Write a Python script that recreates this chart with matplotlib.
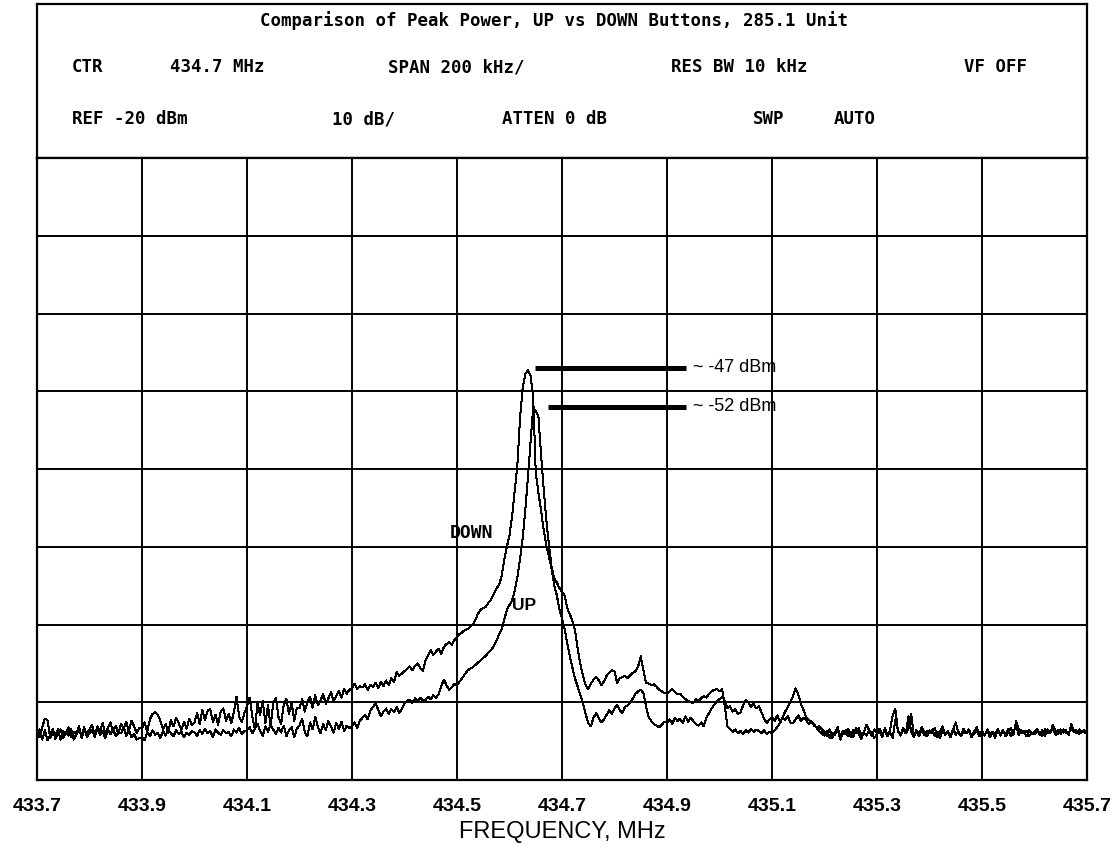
import numpy as np
import matplotlib
matplotlib.use("Agg")
import matplotlib.pyplot as plt

# sweep settings of the analyzer
sweep_start = 433.7
sweep_stop = 435.7
sweep_points = 401

# trace levels in dBm, one row per 0.1 MHz (20 sweep points)
down_dbm = [
    -93.8, -94.5, -93.2, -92.1, -92.3, -94.6, -93.9, -94.3, -93.5, -94.8, -93.7, -94.1, -93.2, -94.5, -93.8, -94.0, -93.1, -94.6, -93.6, -93.9,
    -93.5, -92.9, -94.2, -93.1, -93.8, -92.7, -94.0, -93.3, -92.6, -93.9, -93.0, -94.1, -92.8, -93.4, -92.5, -93.7, -92.4, -93.1, -94.0, -93.3,
    -93.4, -92.6, -93.8, -92.2, -91.5, -91.3, -91.6, -92.4, -93.5, -92.8, -93.9, -92.3, -93.1, -92.0, -92.7, -93.6, -92.5, -93.4, -92.1, -92.9,
    -92.6, -91.4, -92.8, -91.0, -92.3, -91.1, -90.9, -92.5, -91.6, -92.9, -91.2, -90.8, -92.4, -91.5, -92.7, -91.3, -89.3, -91.8, -92.6, -91.4,
    -90.5, -89.4, -91.8, -93.5, -90.2, -91.6, -89.8, -92.7, -90.4, -93.2, -90.0, -89.5, -91.9, -92.8, -90.3, -89.6, -91.5, -90.1, -92.4, -90.7,
    -90.8, -89.6, -91.2, -90.0, -89.3, -90.7, -89.1, -90.4, -89.8, -88.9, -90.2, -89.5, -88.7, -89.9, -89.2, -88.6, -89.4, -88.3, -88.9, -88.4,
    -88.2, -87.6, -88.3, -87.9, -88.1, -87.7, -88.4, -87.8, -88.0, -87.5, -88.2, -87.4, -87.9, -87.2, -87.8, -86.9, -87.4, -86.1, -86.6, -86.3,
    -86.0, -85.7, -85.4, -85.9, -85.3, -85.0, -85.6, -86.0, -84.6, -84.0, -83.3, -83.9, -83.5, -83.1, -83.8, -82.9, -82.5, -82.3, -82.6, -82.0,
    -81.6, -81.2, -81.0, -80.7, -80.6, -80.3, -80.0, -79.4, -78.6, -78.1, -77.9, -77.7, -77.2, -76.8, -76.1, -75.4, -74.9, -73.8, -71.7, -70.0,
    -68.5, -66.0, -62.8, -59.5, -53.5, -49.6, -47.8, -47.3, -48.0, -50.5, -60.5, -63.0, -65.3, -67.8, -69.8, -71.2, -72.8, -74.9, -76.2, -78.0,
    -79.2, -80.6, -82.4, -84.1, -85.6, -87.0, -88.0, -89.1, -90.1, -91.5, -92.7, -93.1, -92.0, -91.4, -92.0, -92.6, -92.2, -91.6, -91.0, -91.5,
    -90.8, -90.3, -91.0, -91.4, -90.6, -90.4, -90.0, -89.5, -88.9, -88.6, -88.4, -88.8, -90.5, -91.9, -92.4, -92.8, -93.0, -93.2, -92.9, -92.5,
    -92.6, -92.2, -92.8, -92.0, -92.4, -92.1, -92.7, -91.8, -92.5, -92.0, -92.4, -92.8, -93.0, -92.6, -93.1, -92.0, -91.4, -90.8, -90.3, -89.9,
    -89.6, -89.3, -89.8, -90.8, -90.5, -91.2, -90.9, -91.5, -91.3, -90.4, -89.7, -90.0, -90.6, -90.2, -90.8, -90.5, -91.3, -92.1, -92.7, -92.2,
    -91.9, -92.4, -91.7, -92.5, -92.0, -92.3, -91.8, -92.6, -92.7, -92.2, -91.7, -92.4, -92.0, -92.3, -92.8, -92.5, -93.0, -93.2, -93.1, -93.5,
    -93.8, -94.3, -93.5, -94.6, -93.9, -93.2, -94.4, -93.7, -94.1, -93.4, -94.5, -93.6, -94.0, -93.3, -94.2, -93.8, -92.9, -93.6, -94.3, -93.5,
    -93.9, -93.4, -94.1, -93.6, -94.4, -93.5, -91.6, -90.9, -93.8, -94.2, -93.3, -94.0, -91.8, -93.7, -94.5, -93.6, -94.1, -93.2, -93.9, -94.4,
    -93.6, -94.0, -93.3, -94.5, -93.8, -93.1, -94.2, -93.7, -94.4, -93.5, -92.6, -93.9, -94.3, -93.4, -94.0, -93.6, -94.5, -93.8, -93.2, -94.1,
    -93.7, -94.3, -93.5, -94.0, -93.8, -94.6, -93.4, -94.1, -93.6, -94.4, -93.9, -93.3, -94.2, -92.4, -93.5, -94.0, -93.7, -94.4, -93.6, -94.1,
    -93.8, -93.4, -94.2, -93.6, -94.3, -93.5, -94.0, -92.9, -93.7, -94.1, -93.5, -93.9, -93.6, -94.2, -92.8, -93.7, -94.0, -93.5, -93.9, -93.6,
    -93.8,
]

up_dbm = [
    -94.2, -93.5, -94.8, -93.6, -94.9, -94.2, -93.4, -94.7, -94.0, -93.5, -94.6, -93.8, -94.3, -93.4, -94.8, -94.1, -93.6, -94.4, -93.2, -94.5,
    -94.0, -93.6, -94.5, -93.4, -94.2, -93.7, -94.6, -93.5, -94.1, -93.3, -94.4, -93.8, -94.0, -93.2, -94.3, -93.6, -94.5, -94.1, -94.8, -94.6,
    -94.5, -94.9, -93.8, -94.4, -93.6, -94.2, -93.9, -94.6, -93.7, -94.3, -93.5, -94.0, -94.4, -93.6, -94.1, -93.8, -94.5, -93.9, -94.2, -93.7,
    -93.9, -94.3, -93.6, -94.1, -93.4, -94.0, -93.7, -94.5, -93.5, -93.9, -94.2, -93.6, -94.0, -93.8, -94.4, -93.5, -93.9, -93.3, -94.1, -93.7,
    -93.6, -93.2, -94.0, -93.4, -92.8, -93.7, -94.3, -93.1, -93.8, -92.9, -93.5, -94.1, -93.3, -93.9, -93.0, -94.4, -93.6, -93.2, -94.5, -93.4,
    -93.0, -92.1, -93.8, -94.4, -92.6, -93.5, -91.9, -93.2, -94.0, -92.8, -93.6, -92.4, -93.1, -93.9, -92.7, -93.4, -92.5, -93.7, -93.0, -93.3,
    -93.1, -92.6, -93.3, -92.4, -92.0, -91.6, -92.2, -91.1, -90.6, -90.1, -91.0, -91.8, -91.2, -90.8, -91.5, -90.9, -91.3, -90.6, -91.4, -90.8,
    -90.2, -89.8, -89.7, -90.1, -89.5, -89.9, -89.4, -89.8, -89.7, -89.3, -89.6, -89.1, -89.4, -89.0, -87.9, -87.1, -87.8, -88.4, -88.1, -87.6,
    -87.8, -87.3, -86.9, -86.4, -85.9, -85.7, -85.5, -85.2, -84.9, -84.6, -84.3, -84.0, -83.6, -83.3, -82.8, -82.1, -81.3, -80.6, -79.4, -78.1,
    -77.5, -76.9, -75.6, -73.9, -71.6, -69.0, -65.3, -61.2, -56.6, -52.2, -52.6, -53.2, -58.0, -62.5, -66.5, -69.6, -72.5, -74.0, -74.6, -75.3,
    -75.8, -76.3, -77.9, -78.7, -79.6, -80.8, -83.2, -85.1, -86.6, -87.8, -88.3, -87.6, -87.1, -86.7, -87.2, -87.8, -87.3, -86.6, -86.2, -85.9,
    -86.0, -87.5, -86.9, -86.8, -86.6, -86.9, -86.5, -86.2, -86.0, -85.4, -84.1, -85.8, -87.5, -87.6, -87.8, -87.7, -88.0, -88.4, -88.6, -88.8,
    -88.9, -88.6, -88.3, -88.7, -89.0, -88.9, -89.3, -89.6, -89.8, -90.0, -90.1, -89.6, -89.8, -89.5, -89.2, -89.4, -88.9, -88.6, -88.4, -88.3,
    -88.6, -88.3, -90.5, -93.1, -93.4, -93.8, -93.5, -94.0, -93.7, -94.1, -93.6, -93.9, -93.4, -93.8, -93.5, -93.7, -94.0, -93.6, -94.1, -93.8,
    -94.0, -93.6, -93.2, -92.7, -92.0, -91.2, -90.6, -90.0, -89.2, -88.2, -89.0, -90.2, -91.0, -91.9, -92.3, -92.5, -92.8, -93.3, -93.7, -94.0,
    -94.3, -93.7, -94.6, -93.9, -94.2, -93.5, -94.8, -94.0, -93.6, -94.4, -93.8, -94.5, -93.3, -94.1, -94.7, -93.9, -94.3, -93.6, -94.0, -94.6,
    -94.1, -93.8, -94.5, -93.3, -94.2, -93.9, -94.6, -92.2, -93.7, -94.3, -93.6, -94.0, -93.4, -91.5, -94.1, -93.8, -94.4, -93.5, -94.2, -93.7,
    -94.0, -93.5, -94.3, -93.8, -94.6, -93.6, -94.1, -93.9, -94.5, -93.4, -94.2, -93.7, -94.4, -93.8, -94.0, -93.5, -94.3, -94.1, -93.6, -94.4,
    -93.9, -94.2, -93.6, -94.5, -93.8, -94.0, -93.5, -94.3, -93.7, -94.1, -93.4, -94.4, -93.8, -93.0, -94.2, -93.6, -94.0, -93.7, -94.3, -93.9,
    -94.1, -93.7, -93.9, -94.3, -93.5, -94.0, -93.8, -93.3, -94.2, -93.6, -94.1, -93.5, -93.9, -94.0, -93.4, -93.8, -93.6, -94.1, -93.7, -93.9,
    -93.9,
]

freq_ticks = [433.7, 433.9, 434.1, 434.3, 434.5, 434.7, 434.9, 435.1, 435.3, 435.5, 435.7]
level_ticks = [-100, -90, -80, -70, -60, -50, -40, -30, -20]

# peak markers: level, start of bar, end of bar
peak_levels = [-47, -52]
peak_bar_start = [434.649, 434.674]
peak_bar_end = 434.936

title = "Comparison of Peak Power, UP vs DOWN Buttons, 285.1 Unit"
header_row1 = ["CTR", "434.7 MHz", "SPAN 200 kHz/", "RES BW 10 kHz", "VF OFF"]
header_row2 = ["REF -20 dBm", "10 dB/", "ATTEN 0 dB", "SWP", "AUTO"]

W, H = 1115, 849
freq = np.linspace(sweep_start, sweep_stop, sweep_points)

fig = plt.figure(figsize=(W / 100, H / 100), dpi=100)

def px(x, y):
    return x / W, 1 - y / H

mono = dict(family="DejaVu Sans Mono", weight="bold", color="black")

# header box
hdr = fig.add_axes([37 / W, 1 - 158 / H, 1050 / W, 154 / H])
hdr.set_xticks([])
hdr.set_yticks([])
for s in hdr.spines.values():
    s.set_linewidth(1.6)

fig.text(*px(554, 21), title, ha="center", va="center", fontsize=12.5, **mono)
for label, x in zip(header_row1, [72, 170, 388, 671, 964]):
    fig.text(*px(x, 67), label, ha="left", va="center", fontsize=12.5, **mono)
for label, x in zip(header_row2, [72, 332, 502, 753, 834]):
    fig.text(*px(x, 119.5), label, ha="left", va="center", fontsize=12.5, **mono)

# trace display
ax = fig.add_axes([37 / W, 1 - 780 / H, 1050 / W, 622 / H])
ax.set_xlim(sweep_start, sweep_stop)
ax.set_ylim(-100, -20)
ax.set_xticks(freq_ticks)
ax.set_xticklabels([f"{t:.1f}" for t in freq_ticks],
                   fontfamily="Liberation Sans", fontweight="bold", fontsize=14)
ax.set_yticks(level_ticks)
ax.set_yticklabels([])
ax.tick_params(length=0, pad=13)
ax.grid(True, color="black", linewidth=1.4)
for s in ax.spines.values():
    s.set_linewidth(1.6)

ax.plot(freq, down_dbm, color="black", linewidth=0.72, antialiased=False)
ax.plot(freq, up_dbm, color="black", linewidth=0.72, antialiased=False)

for lvl, x0 in zip(peak_levels, peak_bar_start):
    ax.plot([x0, peak_bar_end], [lvl, lvl], color="black", linewidth=3.6,
            solid_capstyle="butt")
    ax.text(peak_bar_end + 0.013, lvl, f"~ {lvl} dBm", ha="left", va="center",
            fontsize=13, family="Liberation Sans", color="black")

ax.text(434.487, -68.2, "DOWN", ha="left", va="center", fontsize=13, **mono)
ax.text(434.604, -77.6, "UP", ha="left", va="center", fontsize=12.5,
        family="Liberation Sans", weight="bold", color="black")

fig.text(*px(562, 832), "FREQUENCY, MHz", ha="center", va="center",
         fontsize=17, family="Liberation Sans", color="black")

fig.savefig("out.png", dpi=100)
